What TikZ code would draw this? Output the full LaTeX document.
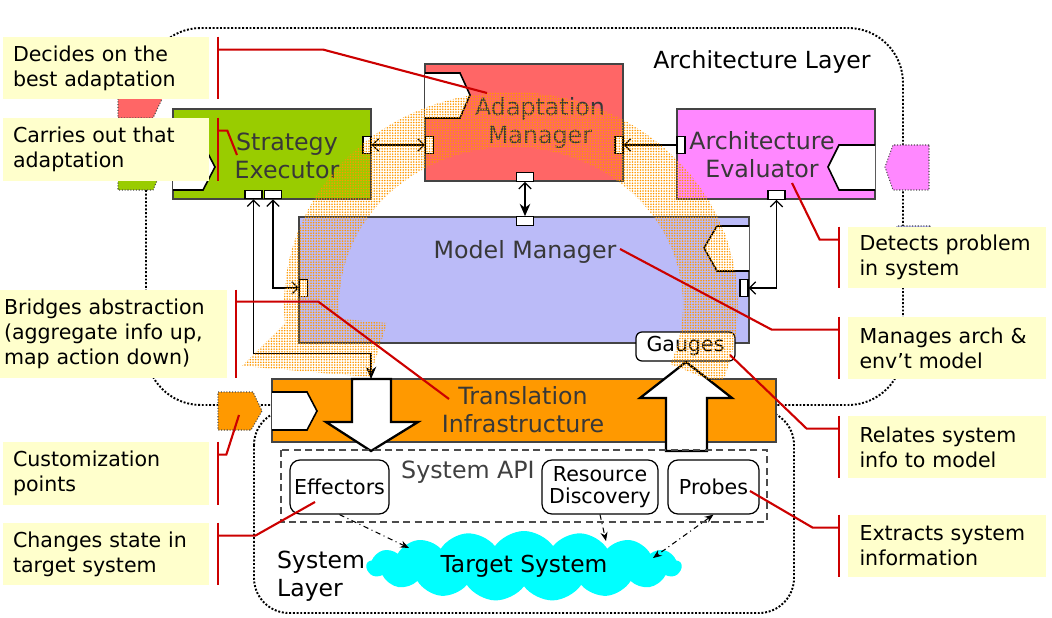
\documentclass[tikz,border=0pt]{standalone}
\usepackage{fontspec}
\setmainfont{DejaVu Sans}
\usepackage{tikz}
\usetikzlibrary{arrows.meta,positioning,calc,shapes.symbols,patterns.meta}

\definecolor{amred}{HTML}{FF6666}
\definecolor{segreen}{HTML}{99CC00}
\definecolor{aepink}{HTML}{FF88FF}
\definecolor{mmblue}{HTML}{BBBBF8}
\definecolor{tiorange}{HTML}{FF9900}
\definecolor{tscyan}{HTML}{00FFFF}
\definecolor{swirl}{HTML}{FF9900}
\definecolor{noteyellow}{HTML}{FFFFCC}
\definecolor{pinred}{HTML}{CC0000}
\definecolor{boxgray}{HTML}{444444}

\tikzset{barb/.tip={Straight Barb[length=3.5pt,width=7pt]},
  fat/.tip={Stealth[length=7pt,width=6pt]},
  thin tip/.tip={Stealth[length=5pt,width=4pt]}}

\begin{document}
\begin{tikzpicture}[x=0.02cm,y=-0.02cm,
  comp/.style={draw=boxgray,line width=0.9pt,inner sep=0pt},
  comp text/.style={text=black!78,align=center,font=\fontsize{13.5}{16}\selectfont},
  port/.style={draw,fill=white,line width=0.7pt,inner sep=0pt},
  vport/.style={port,minimum width=0.16cm,minimum height=0.34cm},
  hport/.style={port,minimum width=0.34cm,minimum height=0.17cm},
  plug/.style={draw,fill=white,line width=0.9pt},
  cust/.style={draw=black!70,densely dotted,line width=0.6pt},
  layer/.style={densely dotted,line width=1.1pt},
  api/.style={draw,rounded corners=0.2cm,fill=white,line width=0.7pt,align=center,
    inner sep=0pt,font=\fontsize{11.7}{12.6}\selectfont},
  note/.style={fill=noteyellow,inner sep=0pt,align=left,font=\fontsize{11.7}{14.2}\selectfont},
  pin/.style={draw=pinred,line width=1.2pt},
  conn/.style={line width=0.7pt},
  probe/.style={line width=0.6pt,dash dot}]
\useasboundingbox (0,0) rectangle (1052,618);

% layers
\draw[layer,rounded corners=1.1cm] (146,28) rectangle (903,405);
\draw[layer,rounded corners=0.7cm] (254,410) rectangle (794,613);
\node[font=\fontsize{13.4}{16}\selectfont] (al) at (762,62) {Architecture Layer};

% customization points
\filldraw[cust,fill=amred] (118,76) -- (153,76) -- (163,97) -- (153,118) -- (118,118) -- cycle;
\filldraw[cust,fill=segreen] (118,144) -- (153,144) -- (163,167) -- (153,190) -- (118,190) -- cycle;
\filldraw[cust,fill=aepink] (929,145) -- (893,145) -- (885,167) -- (893,190) -- (929,190) -- cycle;
\filldraw[cust,fill=mmblue] (930,226) -- (897,226) -- (889,248) -- (897,271) -- (930,271) -- cycle;
\filldraw[cust,fill=tiorange] (218,392) -- (253,392) -- (262,411) -- (251,430) -- (218,430) -- cycle;

% components
\node[comp,fill=amred,minimum width=3.96cm,minimum height=2.34cm] (am) at (524,122.5) {};
\node[comp,fill=segreen,minimum width=3.96cm,minimum height=1.8cm] (se) at (272,154) {};
\node[comp,fill=aepink,minimum width=3.96cm,minimum height=1.8cm] (ae) at (776,154) {};
\node[comp,fill=mmblue,minimum width=9cm,minimum height=2.52cm] (mm) at (524,280) {};
\node[comp,fill=tiorange,minimum width=10.08cm,minimum height=1.26cm] (ti) at (524,410.5) {};

\filldraw[plug] (425,73) -- (460,73) -- (470,95) -- (460,118) -- (425,118);
\filldraw[plug] (173,144) -- (203,144) -- (215,167) -- (203,190) -- (173,190);
\filldraw[plug] (875,145) -- (839,145) -- (828,167) -- (839,190) -- (875,190);
\filldraw[plug] (749,226) -- (717,226) -- (704,248) -- (717,271) -- (749,271);
\filldraw[plug] (272,392) -- (307,392) -- (317,411) -- (307,430) -- (272,430);

\node[comp text] (am-t) at (540,123) {Adaptation\\Manager};
\node[comp text] (se-t) at (287,156) {Strategy\\Executor};
\node[comp text] (ae-t) at (762,155) {Architecture\\Evaluator};
\node[comp text] (mm-t) at (525,252) {Model Manager};
\node[comp text] (ti-t) at (523,410) {Translation\\Infrastructure};

% ports
\node[vport] (se-e) at (367,145) {};
\node[vport] (am-w) at (429.5,145) {};
\node[vport] (am-e) at (619,145) {};
\node[vport] (ae-w) at (681,145) {};
\node[hport] (am-s) at (525,177) {};
\node[hport] (mm-n) at (525,221) {};
\node[hport] (se-s1) at (253.5,194.5) {};
\node[hport] (se-s2) at (273,194.5) {};
\node[hport] (ae-s) at (776.5,195) {};
\node[vport] (mm-w) at (303.5,288) {};
\node[vport] (mm-e) at (744,288) {};
\coordinate (ti-in) at (371,379);

\draw[conn,barb-barb] (se-e) -- (am-w);
\draw[conn,-barb] (ae-w) -- (am-e);
\draw[conn,barb-fat] (am-s) -- (mm-n);
\draw[conn,barb-fat] (se-s1.south) -- ++(0,154) -| (ti-in);
\draw[conn,barb-barb] (se-s2.south) |- (mm-w.west);
\draw[conn,barb-barb] (ae-s.south) |- (mm-e.east);

% big arrows through the infrastructure
\filldraw[fill=white,line width=1.3pt] (352,379) -- (391,379) -- (391,422) -- (418,422)
  -- (371,451) -- (326,422) -- (352,422) -- cycle;
\filldraw[fill=white,line width=1.3pt] (666,451) -- (707,451) -- (707,398) -- (732,398)
  -- (686,362) -- (640,398) -- (666,398) -- cycle;
\node[api,rounded corners=0.12cm,minimum width=1.98cm,minimum height=0.58cm] (ga) at (685.5,346.5) {Gauges};

% system layer
\draw[black!70,line width=0.8pt,dash pattern=on 4pt off 2.5pt] (281,450) rectangle (767,522);
\node[text=black!75,font=\fontsize{13.5}{16}\selectfont] (api) at (468,472) {System API};
\node[api,minimum width=1.98cm,minimum height=1.08cm] (eff) at (339.5,487) {Effectors};
\node[api,minimum width=2.32cm,minimum height=1.08cm] (rd) at (600,487) {Resource\\Discovery};
\node[api,minimum width=1.82cm,minimum height=1.08cm] (pr) at (713.5,487) {Probes};
\node[cloud,cloud puffs=17,cloud puff arc=110,cloud ignores aspect,fill=tscyan,
  minimum width=6.3cm,minimum height=1.4cm,inner sep=0pt,
  font=\fontsize{13.3}{16}\selectfont] (ts) at (524,566) {Target System};
\node[anchor=west,align=left,font=\fontsize{13.4}{15.9}\selectfont] (sl) at (271,576) {System\\Layer};
\coordinate (ts-e) at (409,548);
\coordinate (ts-r) at (606,541);
\coordinate (ts-p) at (653,558);
\draw[probe,-thin tip] (eff.south) -- (ts-e);
\draw[probe,-thin tip] (rd.south) -- (ts-r);
\draw[probe,thin tip-thin tip] (pr.south) -- (ts-p);

% feedback swirl
\fill[pattern={Dots[distance=1.5pt,radius=0.5pt]},pattern color=swirl]
  plot[domain=-22:185,samples=60] ({511+227*cos(\x)},{305-213*sin(\x)})
  -- (242,366) -- (370,377) -- (387,323)
  -- plot[domain=185:-22,samples=60] ({511+172*cos(\x)},{305-158*sin(\x)}) -- cycle;

% callouts
\coordinate (am-pin) at (487,93);
\coordinate (se-pin) at (237,155);
\coordinate (ti-pin) at (449,399);
\coordinate (cp-pin) at (239,415);
\coordinate (eff-pin) at (315,502);
\coordinate (ae-pin) at (792,183);
\coordinate (mm-pin) at (620,249);
\coordinate (ga-pin) at (730,355);
\coordinate (pr-pin) at (750,491);

\node[note,minimum width=4.12cm,minimum height=1.24cm,text width=3.72cm] (dec) at (106,68) {Decides on the\\best adaptation};
\node[note,minimum width=4.12cm,minimum height=1.26cm,text width=3.72cm] (car) at (106,149.5) {Carries out that\\adaptation};
\node[note,minimum width=4.54cm,minimum height=1.76cm,text width=4.38cm] (bri) at (113.5,334) {Bridges abstraction\\(aggregate info up,\\map action down)};
\node[note,minimum width=4.12cm,minimum height=1.26cm,text width=3.72cm] (cus) at (106,473.5) {Customization\\points};
\node[note,minimum width=4.12cm,minimum height=1.24cm,text width=3.72cm] (chg) at (106,554) {Changes state in\\target system};
\node[note,minimum width=3.96cm,minimum height=1.22cm,text width=3.5cm] (det) at (947,257.5) {Detects problem\\in system};
\node[note,minimum width=3.96cm,minimum height=1.24cm,text width=3.5cm] (man) at (947,348) {Manages arch \&\\env’t model};
\node[note,minimum width=3.96cm,minimum height=1.24cm,text width=3.5cm] (rel) at (947,447) {Relates system\\info to model};
\node[note,minimum width=3.96cm,minimum height=1.24cm,text width=3.5cm] (ext) at (947,546) {Extracts system\\information};

\foreach \n in {dec,car,bri,cus,chg}
  \draw[pin] ($(\n.north east)+(9,0)$) -- ($(\n.south east)+(9,0)$);
\foreach \n in {det,man,rel,ext}
  \draw[pin] ($(\n.north west)+(-9,0)$) -- ($(\n.south west)+(-9,0)$);

\draw[pin] ($(dec.north east)+(9,13)$) -- ++(105,0) -- (am-pin);
\draw[pin] ($(car.north east)+(9,13)$) -- ++(9,0) -- (se-pin);
\draw[pin] ($(bri.north east)+(9,12)$) -- ++(82,0) -- (ti-pin);
\draw[pin] ($(cus.north east)+(9,13)$) -- ++(8,0) -- (cp-pin);
\draw[pin] ($(chg.north east)+(9,13)$) -- ++(37,0) -- (eff-pin);
\draw[pin] ($(det.north west)+(-9,13)$) -- ++(-19,0) -- (ae-pin);
\draw[pin] ($(man.north west)+(-9,13)$) -- ++(-67,0) -- (mm-pin);
\draw[pin] ($(rel.north west)+(-9,13)$) -- ++(-32,0) -- (ga-pin);
\draw[pin] ($(ext.north west)+(-9,13)$) -- ++(-26,0) -- (pr-pin);
\end{tikzpicture}
\end{document}
